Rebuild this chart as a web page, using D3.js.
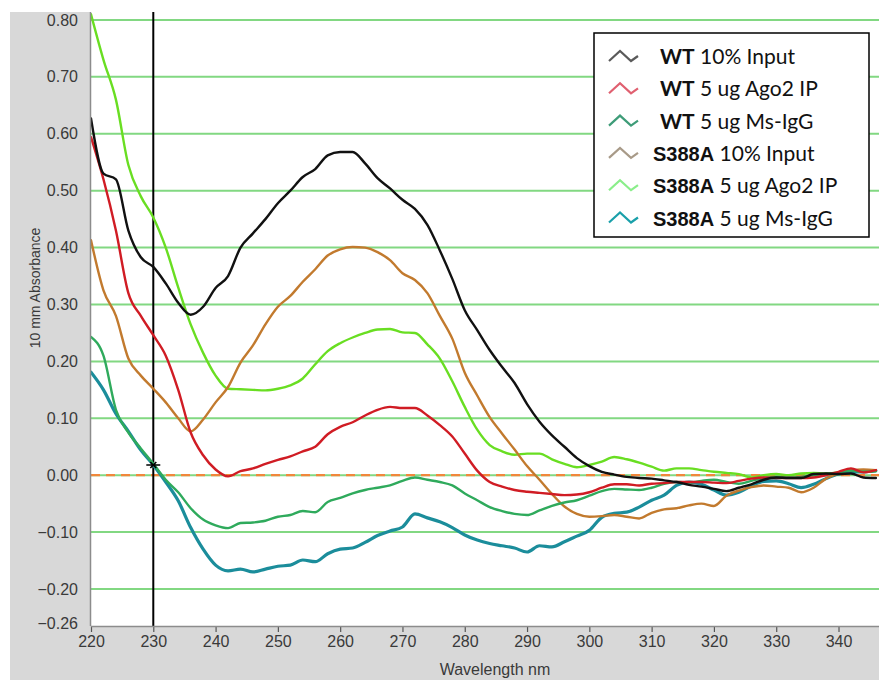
<!DOCTYPE html>
<html><head><meta charset="utf-8">
<script src="https://cdn.jsdelivr.net/npm/d3@7"></script>
<style>body{margin:0;background:#fff} svg{display:block}</style>
</head><body>
<svg id="chart" width="879" height="680"></svg>
<script>
// ---------- DATA ----------
const wavelength = [220,222,224,226,228,230,232,234,236,238,240,242,244,246,248,250,252,254,256,258,260,262,264,266,268,270,272,274,276,278,280,282,284,286,288,290,292,294,296,298,300,302,304,306,308,310,312,314,316,318,320,322,324,326,328,330,332,334,336,338,340,342,344,346];

const wtInput = [0.627,0.53,0.52,0.43,0.383,0.366,0.337,0.303,0.282,0.296,0.329,0.35,0.40,0.425,0.45,0.478,0.50,0.524,0.538,0.562,0.568,0.568,0.548,0.522,0.504,0.484,0.468,0.44,0.395,0.345,0.29,0.255,0.22,0.19,0.162,0.125,0.094,0.07,0.05,0.03,0.016,0.006,0.001,-0.003,-0.005,-0.006,-0.009,-0.012,-0.017,-0.02,-0.024,-0.028,-0.022,-0.016,-0.008,-0.004,-0.005,-0.005,0.002,0.003,0.002,0.003,-0.004,-0.005];

const wtAgo2 = [0.594,0.52,0.43,0.32,0.28,0.246,0.21,0.15,0.075,0.035,0.01,-0.002,0.007,0.012,0.02,0.027,0.033,0.042,0.05,0.072,0.085,0.093,0.105,0.115,0.12,0.118,0.118,0.105,0.088,0.068,0.038,0.008,-0.012,-0.02,-0.026,-0.029,-0.031,-0.033,-0.035,-0.034,-0.03,-0.022,-0.016,-0.016,-0.018,-0.015,-0.014,-0.012,-0.012,-0.012,-0.013,-0.014,-0.01,-0.006,-0.004,-0.005,-0.005,-0.005,-0.004,0.0,0.006,0.012,0.005,0.009];

const wtIgG = [0.243,0.21,0.115,0.075,0.047,0.02,-0.008,-0.03,-0.058,-0.078,-0.088,-0.093,-0.084,-0.083,-0.08,-0.073,-0.07,-0.063,-0.065,-0.047,-0.04,-0.032,-0.026,-0.022,-0.018,-0.01,-0.004,-0.008,-0.012,-0.018,-0.032,-0.044,-0.056,-0.063,-0.068,-0.07,-0.062,-0.054,-0.048,-0.044,-0.036,-0.028,-0.024,-0.025,-0.026,-0.022,-0.015,-0.012,-0.013,-0.01,-0.008,-0.012,-0.015,-0.01,-0.005,-0.003,-0.004,-0.003,0.0,0.002,0.004,0.008,0.006,0.007];

const s388aInput = [0.413,0.325,0.28,0.205,0.175,0.152,0.128,0.1,0.077,0.098,0.128,0.155,0.198,0.228,0.265,0.296,0.315,0.34,0.362,0.386,0.397,0.401,0.40,0.392,0.378,0.355,0.343,0.32,0.28,0.24,0.18,0.14,0.102,0.073,0.045,0.016,-0.008,-0.033,-0.055,-0.068,-0.073,-0.072,-0.07,-0.073,-0.076,-0.066,-0.06,-0.058,-0.053,-0.05,-0.054,-0.036,-0.027,-0.021,-0.018,-0.02,-0.022,-0.03,-0.022,-0.006,0.003,0.009,0.01,0.009];

const s388aAgo2 = [0.81,0.73,0.66,0.545,0.49,0.453,0.40,0.33,0.265,0.215,0.175,0.152,0.151,0.15,0.149,0.152,0.158,0.17,0.195,0.218,0.232,0.242,0.25,0.256,0.257,0.251,0.25,0.23,0.205,0.165,0.12,0.08,0.053,0.042,0.036,0.038,0.038,0.028,0.02,0.014,0.018,0.024,0.032,0.028,0.022,0.015,0.008,0.012,0.012,0.009,0.006,0.004,0.002,-0.004,0.0,0.002,0.0,0.003,0.004,0.003,0.005,0.01,0.006,0.008];

const s388aIgG = [0.181,0.15,0.108,0.077,0.044,0.018,-0.012,-0.045,-0.092,-0.13,-0.158,-0.168,-0.165,-0.17,-0.165,-0.16,-0.158,-0.149,-0.152,-0.138,-0.13,-0.128,-0.118,-0.106,-0.098,-0.091,-0.068,-0.075,-0.082,-0.092,-0.105,-0.114,-0.12,-0.124,-0.128,-0.135,-0.124,-0.126,-0.117,-0.107,-0.097,-0.074,-0.067,-0.065,-0.056,-0.044,-0.035,-0.018,-0.012,-0.016,-0.026,-0.035,-0.03,-0.019,-0.011,-0.01,-0.015,-0.022,-0.016,-0.006,0.002,0.005,0.006,0.008];

const legendStrain = ["WT","WT","WT","S388A","S388A","S388A"];
const legendSample = ["10% Input","5 ug Ago2 IP","5 ug Ms-IgG","10% Input","5 ug Ago2 IP","5 ug Ms-IgG"];

const yTicks = [0.8,0.7,0.6,0.5,0.4,0.3,0.2,0.1,0.0,-0.1,-0.2,-0.26];
const gridTicks = [0.8,0.7,0.6,0.5,0.4,0.3,0.2,0.1,0.0,-0.1,-0.2];
const xTicks = [220,230,240,250,260,270,280,290,300,310,320,330,340];
const markerWavelength = 230;
const markerValue = 0.018;

// ---------- STYLES ----------
const lineColors = ["#111111","#d01c24","#2faa5c","#c27a2e","#69de22","#1b8d9b"];
const legendColors = ["#5a5a5a","#e06070","#3e9c78","#a89a88","#8aee8a","#1aa0aa"];
const lineWidths = [2.4,2.4,2.4,2.4,2.4,3.2];
const seriesData = [wtInput, wtAgo2, wtIgG, s388aInput, s388aAgo2, s388aIgG];

const svg = d3.select("#chart");
const W = 879, H = 680;
const plot = {left: 91, right: 879, top: 12, bottom: 626};

// panel background
svg.append("rect").attr("x",10).attr("y",12).attr("width",W-10).attr("height",H-12).attr("fill","#d8d8d8");
svg.append("rect").attr("x",plot.left).attr("y",0).attr("width",plot.right-plot.left).attr("height",plot.bottom).attr("fill","#ffffff");

const x = d3.scaleLinear().domain([220, 346.5]).range([plot.left, plot.right]);
const y = d3.scaleLinear().domain([-0.265, 0.814]).range([plot.bottom, plot.top]);

svg.append("defs").append("clipPath").attr("id","clip")
  .append("rect").attr("x",plot.left).attr("y",0).attr("width",plot.right-plot.left).attr("height",plot.bottom);

// gridlines
svg.append("g").selectAll("line").data(gridTicks).join("line")
  .attr("x1",plot.left).attr("x2",plot.right)
  .attr("y1",d=>y(d)).attr("y2",d=>y(d))
  .attr("stroke","#82d882").attr("stroke-width",2);

// zero dashed line
svg.append("line").attr("x1",plot.left).attr("x2",plot.right)
  .attr("y1",y(0)).attr("y2",y(0))
  .attr("stroke","#f0873c").attr("stroke-width",2.2).attr("stroke-dasharray","9,6");

// vertical marker line
svg.append("line").attr("x1",x(markerWavelength)).attr("x2",x(markerWavelength))
  .attr("y1",plot.top).attr("y2",plot.bottom)
  .attr("stroke","#000").attr("stroke-width",2);

// series lines
const line = d3.line().x((d,i)=>x(wavelength[i])).y(d=>y(d)).curve(d3.curveMonotoneX);
const order = [5,4,3,2,1,0];
const lg = svg.append("g").attr("clip-path","url(#clip)");
order.forEach(k=>{
  lg.append("path").datum(seriesData[k]).attr("d",line)
    .attr("fill","none").attr("stroke",lineColors[k]).attr("stroke-width",lineWidths[k])
    .attr("stroke-linejoin","round").attr("stroke-linecap","round");
});

// cross marker
const mx = x(markerWavelength), my = y(markerValue);
svg.append("path").attr("d",`M${mx-7},${my}L${mx+7},${my}M${mx-3},${my-3}L${mx+3},${my+3}M${mx+3},${my-3}L${mx-3},${my+3}`)
  .attr("stroke","#000").attr("stroke-width",1.6).attr("fill","none");

// axes
const yAxis = svg.append("g").attr("transform",`translate(${plot.left},0)`)
  .call(d3.axisLeft(y).tickValues(yTicks).tickSize(0).tickPadding(13).tickFormat(d3.format(".2f")));
yAxis.select(".domain").remove();
yAxis.selectAll("text").attr("font-family","'Liberation Sans', Arial, sans-serif").attr("font-size",16).attr("fill","#3a3a3a");

const xAxis = svg.append("g").attr("transform",`translate(0,${plot.bottom})`)
  .call(d3.axisBottom(x).tickValues(xTicks).tickSize(6).tickPadding(4).tickFormat(d3.format("d")));
xAxis.select(".domain").remove();
xAxis.selectAll("line").attr("stroke","#555").attr("stroke-width",1.2);
xAxis.selectAll("text").attr("font-family","'Liberation Sans', Arial, sans-serif").attr("font-size",16).attr("fill","#3a3a3a");

// axis lines
svg.append("line").attr("x1",plot.left-0.5).attr("x2",plot.left-0.5).attr("y1",plot.top).attr("y2",plot.bottom)
  .attr("stroke","#8c8c8c").attr("stroke-width",1.5);
svg.append("line").attr("x1",plot.left).attr("x2",plot.right).attr("y1",plot.bottom+0.5).attr("y2",plot.bottom+0.5)
  .attr("stroke","#8c8c8c").attr("stroke-width",1.5);

// axis titles
svg.append("text").attr("x",(plot.left+plot.right)/2+10).attr("y",675)
  .attr("text-anchor","middle").attr("font-family","'Liberation Sans', Arial, sans-serif").attr("font-size",16).attr("fill","#3a3a3a")
  .text("Wavelength nm");
svg.append("text").attr("transform","translate(40,288) rotate(-90)")
  .attr("text-anchor","middle").attr("font-family","'Liberation Sans', Arial, sans-serif").attr("font-size",14).attr("fill","#3a3a3a")
  .text("10 mm Absorbance");

// legend
const leg = svg.append("g");
leg.append("rect").attr("x",594).attr("y",33).attr("width",275).attr("height",204)
  .attr("fill","#fff").attr("stroke","#000").attr("stroke-width",1.5);
legendStrain.forEach((s,i)=>{
  const cy = 57 + i*32.3;
  const x0 = 609;
  leg.append("path").attr("d",`M${x0},${cy+4}L${x0+11},${cy-6}L${x0+22},${cy+4}L${x0+29},${cy-1}`)
    .attr("fill","none").attr("stroke",legendColors[i]).attr("stroke-width",2.2).attr("stroke-linejoin","miter");
  const isWT = s==="WT";
  const t = leg.append("text").attr("x", isWT?660:653).attr("y",cy+7).attr("fill","#111");
  t.append("tspan").attr("font-family", isWT ? "Lato, 'Open Sans', sans-serif" : "'Liberation Sans', Arial, sans-serif")
    .attr("font-weight","bold").attr("font-size", isWT?21:20).text(s);
  t.append("tspan").attr("font-family","Lato, 'Open Sans', sans-serif").attr("font-size",21).text(" " + legendSample[i]);
});
</script>
</body></html>
